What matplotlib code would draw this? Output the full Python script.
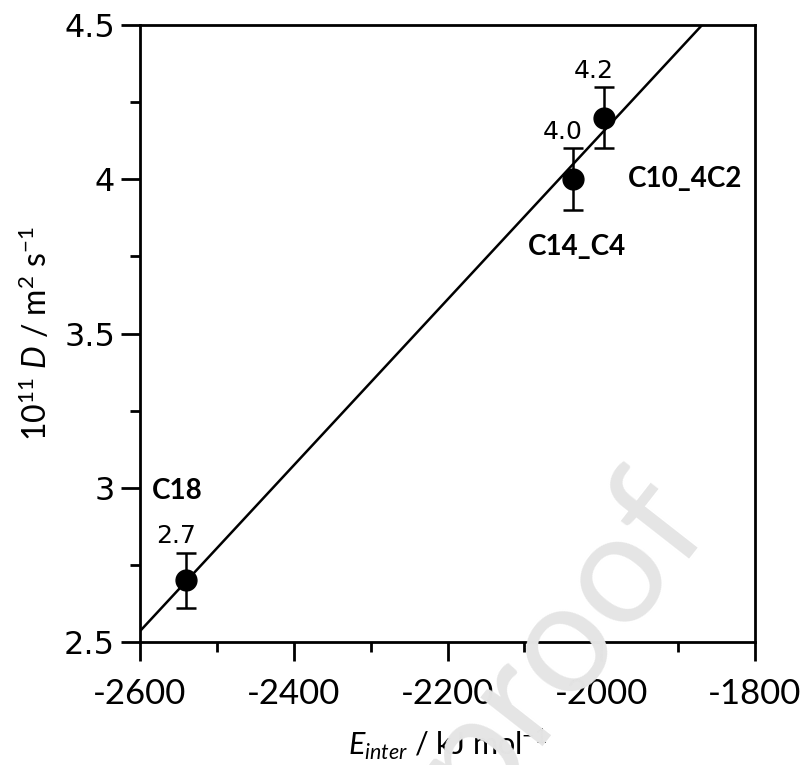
import numpy as np
import matplotlib
matplotlib.use("Agg")
import matplotlib.pyplot as plt
from matplotlib.ticker import MultipleLocator

# data
names = ["C18", "C14_C4", "C10_4C2"]
e_inter = [-2540, -2037, -1997]
diff = [2.7, 4.0, 4.2]
diff_err = [0.09, 0.10, 0.10]
value_text = ["2.7", "4.0", "4.2"]

plt.rcParams["axes.unicode_minus"] = False
plt.rcParams["mathtext.fontset"] = "custom"
plt.rcParams["mathtext.rm"] = "Lato"
plt.rcParams["mathtext.it"] = "Lato:italic"
plt.rcParams["mathtext.bf"] = "Lato:bold"

fig = plt.figure(figsize=(8.03, 7.65), dpi=100)
ax = fig.add_axes([140 / 803, 1 - 642 / 765, 615 / 803, 617 / 765])

# linear fit through the three points
slope, icpt = np.polyfit(e_inter, diff, 1)
xfit = np.array([-2600, -1800])
ax.plot(xfit, slope * xfit + icpt, color="black", lw=1.8, zorder=2)

ax.errorbar(e_inter, diff, yerr=diff_err, fmt="o", color="black", ms=15,
            capsize=7, elinewidth=1.8, capthick=1.8, zorder=3)

# value labels above error bars
for x, y, err, t in zip(e_inter, diff, diff_err, value_text):
    ax.annotate(t, (x, y + err), xytext=(-7, 3), textcoords="offset points",
                ha="center", va="bottom", fontsize=18, family="DejaVu Sans")

# compound names
name_pos = [(-2585, 2.99, "left"), (-2032, 3.78, "center"), (-1965, 4.0, "left")]
for n, (x, y, ha) in zip(names, name_pos):
    ax.text(x, y, n, ha=ha, va="center", fontsize=20, fontweight="bold", family="Lato")

ax.set_xlim(-2600, -1800)
ax.set_ylim(2.5, 4.5)
ax.xaxis.set_major_locator(MultipleLocator(200))
ax.xaxis.set_minor_locator(MultipleLocator(100))
ax.yaxis.set_minor_locator(MultipleLocator(0.25))
ax.set_yticks([2.5, 3, 3.5, 4, 4.5])
ax.set_yticklabels(["2.5", "3", "3.5", "4", "4.5"])

for s in ax.spines.values():
    s.set_linewidth(2)
ax.tick_params(which="major", direction="out", length=14, width=2)
ax.tick_params(which="minor", direction="out", length=7, width=2)
ax.tick_params(axis="y", labelsize=23, pad=4)
ax.tick_params(axis="x", labelsize=25, pad=12)
for lab in ax.get_xticklabels():
    lab.set_family("Lato")
for lab in ax.get_yticklabels():
    lab.set_family("DejaVu Sans")

ax.set_xlabel(r"$\mathit{E}_{\mathit{inter}}$ / kJ mol$^{-1}$", fontsize=22, family="Lato", labelpad=12)
ax.set_ylabel(r"10$^{11}$ $\mathit{D}$ / m$^{2}$ s$^{-1}$", fontsize=23, family="Lato", labelpad=8)

# faint watermark
fig.text(560 / 803, 1 - 640 / 765, "proof", rotation=52, ha="center", va="center",
         fontsize=112, family="Lato", color="#e5e5e5", zorder=10)

fig.savefig("out.png", dpi=100)
